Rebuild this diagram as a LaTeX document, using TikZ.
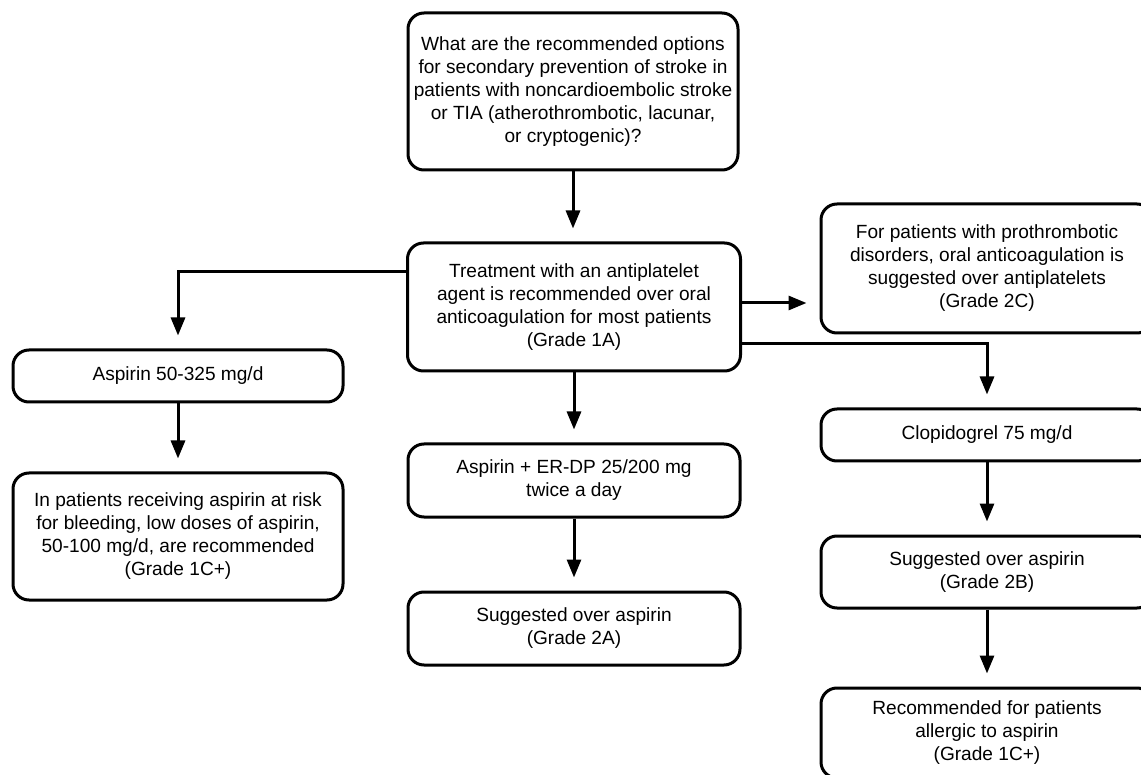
\documentclass[tikz,border=0pt]{standalone}
\usepackage{fontspec}
\setmainfont{Liberation Sans}
\usetikzlibrary{arrows.meta}

\begin{document}
\begin{tikzpicture}
      [
      x=1pt,y=-1pt,
      block/.style={rectangle,draw,line width=3pt,rounded corners=16pt,align=center,inner sep=0pt,font=\fontsize{19.1}{23}\selectfont},
      flow/.style={line width=3pt,-{Triangle[length=18pt,width=14pt]},shorten >=13pt}
      ]
      \useasboundingbox (0,0) rectangle (1141,775);
      \clip (0,0) rectangle (1141,775);
      \node (q) at (573,91.5) [block,minimum width=330pt,minimum height=157pt] {What are the recommended options\\for secondary prevention of stroke in\\patients with noncardioembolic stroke\\or TIA (atherothrombotic, lacunar,\\or cryptogenic)?};
      \node (treat) at (574,307) [block,minimum width=333pt,minimum height=128pt] {Treatment with an antiplatelet\\agent is recommended over oral\\anticoagulation for most patients\\(Grade 1A)};
      \node (asp) at (178,376) [block,minimum width=330pt,minimum height=52pt] {Aspirin 50-325 mg/d};
      \node (asplow) at (178,536.5) [block,minimum width=330pt,minimum height=127pt] {In patients receiving aspirin at risk\\for bleeding, low doses of aspirin,\\50-100 mg/d, are recommended\\(Grade 1C+)};
      \node (erdp) at (574,480.5) [block,minimum width=332pt,minimum height=73pt] {Aspirin + ER-DP 25/200 mg\\twice a day};
      \node (erdpsug) at (574,628.5) [block,minimum width=332pt,minimum height=73pt] {Suggested over aspirin\\(Grade 2A)};
      \node (proth) at (987,268.5) [block,minimum width=332pt,minimum height=129pt] {For patients with prothrombotic\\disorders, oral anticoagulation is\\suggested over antiplatelets\\(Grade 2C)};
      \node (clop) at (987,435) [block,minimum width=332pt,minimum height=52pt] {Clopidogrel 75 mg/d};
      \node (clopsug) at (987,572) [block,minimum width=332pt,minimum height=72pt] {Suggested over aspirin\\(Grade 2B)};
      \node (clopall) at (987,733) [block,minimum width=332pt,minimum height=90pt] {Recommended for patients\\allergic to aspirin\\(Grade 1C+)};
      \draw [flow] (q.south) to (q.south |- treat.north);
      \draw [flow] ([yshift=35pt]treat.west) -| (asp);
      \draw [flow] ([yshift=4pt]treat.east) to ([yshift=4pt]treat.east -| proth.west);
      \draw [flow] ([yshift=-37pt]treat.east) -| (clop);
      \draw [flow] (treat) to (erdp);
      \draw [flow] (asp) to (asplow);
      \draw [flow] (erdp) to (erdpsug);
      \draw [flow] (clop) to (clopsug);
      \draw [flow] (clopsug) to (clopall);
    \end{tikzpicture}
\end{document}
